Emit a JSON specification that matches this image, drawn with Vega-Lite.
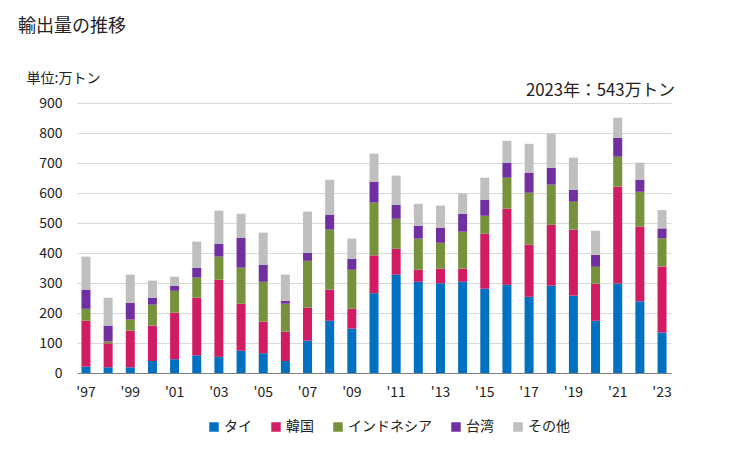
{
  "$schema": "https://vega.github.io/schema/vega-lite/v6.json",
  "width": 594,
  "height": 270,
  "autosize": {"type": "none"},
  "padding": {"left": 77, "top": 103, "right": 58, "bottom": 77},
  "background": "white",
  "title": {
    "text": "輸出量の推移",
    "anchor": "start",
    "frame": "group",
    "dx": -59,
    "offset": 35,
    "fontSize": 18,
    "fontWeight": "normal",
    "font": "Noto Sans CJK JP",
    "color": "#222222"
  },
  "datasets": {
    "main": [
      {"year": 1997, "country": "タイ", "value": 21}, {"year": 1997, "country": "韓国", "value": 153}, {"year": 1997, "country": "インドネシア", "value": 40}, {"year": 1997, "country": "台湾", "value": 64}, {"year": 1997, "country": "その他", "value": 110},
      {"year": 1998, "country": "タイ", "value": 19}, {"year": 1998, "country": "韓国", "value": 80}, {"year": 1998, "country": "インドネシア", "value": 7}, {"year": 1998, "country": "台湾", "value": 52}, {"year": 1998, "country": "その他", "value": 93},
      {"year": 1999, "country": "タイ", "value": 19}, {"year": 1999, "country": "韓国", "value": 122}, {"year": 1999, "country": "インドネシア", "value": 37}, {"year": 1999, "country": "台湾", "value": 56}, {"year": 1999, "country": "その他", "value": 94},
      {"year": 2000, "country": "タイ", "value": 40}, {"year": 2000, "country": "韓国", "value": 118}, {"year": 2000, "country": "インドネシア", "value": 70}, {"year": 2000, "country": "台湾", "value": 23}, {"year": 2000, "country": "その他", "value": 57},
      {"year": 2001, "country": "タイ", "value": 46}, {"year": 2001, "country": "韓国", "value": 155}, {"year": 2001, "country": "インドネシア", "value": 73}, {"year": 2001, "country": "台湾", "value": 17}, {"year": 2001, "country": "その他", "value": 30},
      {"year": 2002, "country": "タイ", "value": 59}, {"year": 2002, "country": "韓国", "value": 192}, {"year": 2002, "country": "インドネシア", "value": 67}, {"year": 2002, "country": "台湾", "value": 33}, {"year": 2002, "country": "その他", "value": 87},
      {"year": 2003, "country": "タイ", "value": 54}, {"year": 2003, "country": "韓国", "value": 257}, {"year": 2003, "country": "インドネシア", "value": 77}, {"year": 2003, "country": "台湾", "value": 43}, {"year": 2003, "country": "その他", "value": 110},
      {"year": 2004, "country": "タイ", "value": 74}, {"year": 2004, "country": "韓国", "value": 157}, {"year": 2004, "country": "インドネシア", "value": 120}, {"year": 2004, "country": "台湾", "value": 100}, {"year": 2004, "country": "その他", "value": 80},
      {"year": 2005, "country": "タイ", "value": 66}, {"year": 2005, "country": "韓国", "value": 105}, {"year": 2005, "country": "インドネシア", "value": 133}, {"year": 2005, "country": "台湾", "value": 57}, {"year": 2005, "country": "その他", "value": 107},
      {"year": 2006, "country": "タイ", "value": 40}, {"year": 2006, "country": "韓国", "value": 98}, {"year": 2006, "country": "インドネシア", "value": 93}, {"year": 2006, "country": "台湾", "value": 10}, {"year": 2006, "country": "その他", "value": 87},
      {"year": 2007, "country": "タイ", "value": 108}, {"year": 2007, "country": "韓国", "value": 110}, {"year": 2007, "country": "インドネシア", "value": 156}, {"year": 2007, "country": "台湾", "value": 27}, {"year": 2007, "country": "その他", "value": 137},
      {"year": 2008, "country": "タイ", "value": 174}, {"year": 2008, "country": "韓国", "value": 104}, {"year": 2008, "country": "インドネシア", "value": 200}, {"year": 2008, "country": "台湾", "value": 50}, {"year": 2008, "country": "その他", "value": 116},
      {"year": 2009, "country": "タイ", "value": 148}, {"year": 2009, "country": "韓国", "value": 66}, {"year": 2009, "country": "インドネシア", "value": 130}, {"year": 2009, "country": "台湾", "value": 37}, {"year": 2009, "country": "その他", "value": 67},
      {"year": 2010, "country": "タイ", "value": 266}, {"year": 2010, "country": "韓国", "value": 126}, {"year": 2010, "country": "インドネシア", "value": 176}, {"year": 2010, "country": "台湾", "value": 70}, {"year": 2010, "country": "その他", "value": 93},
      {"year": 2011, "country": "タイ", "value": 328}, {"year": 2011, "country": "韓国", "value": 86}, {"year": 2011, "country": "インドネシア", "value": 100}, {"year": 2011, "country": "台湾", "value": 47}, {"year": 2011, "country": "その他", "value": 97},
      {"year": 2012, "country": "タイ", "value": 304}, {"year": 2012, "country": "韓国", "value": 40}, {"year": 2012, "country": "インドネシア", "value": 104}, {"year": 2012, "country": "台湾", "value": 43}, {"year": 2012, "country": "その他", "value": 73},
      {"year": 2013, "country": "タイ", "value": 299}, {"year": 2013, "country": "韓国", "value": 49}, {"year": 2013, "country": "インドネシア", "value": 86}, {"year": 2013, "country": "台湾", "value": 50}, {"year": 2013, "country": "その他", "value": 74},
      {"year": 2014, "country": "タイ", "value": 304}, {"year": 2014, "country": "韓国", "value": 44}, {"year": 2014, "country": "インドネシア", "value": 123}, {"year": 2014, "country": "台湾", "value": 60}, {"year": 2014, "country": "その他", "value": 67},
      {"year": 2015, "country": "タイ", "value": 281}, {"year": 2015, "country": "韓国", "value": 183}, {"year": 2015, "country": "インドネシア", "value": 60}, {"year": 2015, "country": "台湾", "value": 54}, {"year": 2015, "country": "その他", "value": 73},
      {"year": 2016, "country": "タイ", "value": 294}, {"year": 2016, "country": "韓国", "value": 254}, {"year": 2016, "country": "インドネシア", "value": 103}, {"year": 2016, "country": "台湾", "value": 50}, {"year": 2016, "country": "その他", "value": 73},
      {"year": 2017, "country": "タイ", "value": 254}, {"year": 2017, "country": "韓国", "value": 174}, {"year": 2017, "country": "インドネシア", "value": 173}, {"year": 2017, "country": "台湾", "value": 67}, {"year": 2017, "country": "その他", "value": 96},
      {"year": 2018, "country": "タイ", "value": 291}, {"year": 2018, "country": "韓国", "value": 203}, {"year": 2018, "country": "インドネシア", "value": 134}, {"year": 2018, "country": "台湾", "value": 56}, {"year": 2018, "country": "その他", "value": 114},
      {"year": 2019, "country": "タイ", "value": 258}, {"year": 2019, "country": "韓国", "value": 220}, {"year": 2019, "country": "インドネシア", "value": 93}, {"year": 2019, "country": "台湾", "value": 40}, {"year": 2019, "country": "その他", "value": 107},
      {"year": 2020, "country": "タイ", "value": 174}, {"year": 2020, "country": "韓国", "value": 124}, {"year": 2020, "country": "インドネシア", "value": 56}, {"year": 2020, "country": "台湾", "value": 40}, {"year": 2020, "country": "その他", "value": 80},
      {"year": 2021, "country": "タイ", "value": 298}, {"year": 2021, "country": "韓国", "value": 323}, {"year": 2021, "country": "インドネシア", "value": 100}, {"year": 2021, "country": "台湾", "value": 63}, {"year": 2021, "country": "その他", "value": 67},
      {"year": 2022, "country": "タイ", "value": 239}, {"year": 2022, "country": "韓国", "value": 249}, {"year": 2022, "country": "インドネシア", "value": 116}, {"year": 2022, "country": "台湾", "value": 40}, {"year": 2022, "country": "その他", "value": 57},
      {"year": 2023, "country": "タイ", "value": 135}, {"year": 2023, "country": "韓国", "value": 220}, {"year": 2023, "country": "インドネシア", "value": 94}, {"year": 2023, "country": "台湾", "value": 33}, {"year": 2023, "country": "その他", "value": 61}
    ],
    "note": [{"year": 2023, "value": 900, "label": "2023年：543万トン"}]
  },
  "encoding": {
    "x": {
      "field": "year",
      "type": "ordinal",
      "scale": {"paddingInner": 0.59, "paddingOuter": 0.2},
      "axis": {
        "title": null,
        "labelAngle": 0,
        "labelExpr": "datum.value % 2 == 1 ? \"'\" + slice(toString(datum.value), 2) : ''",
        "labelOverlap": false,
        "ticks": false,
        "domainColor": "#808080",
        "labelPadding": 12,
        "labelFontSize": 14,
        "labelColor": "#222222",
        "labelFont": "Noto Sans CJK JP"
      }
    },
    "y": {
      "field": "value",
      "type": "quantitative",
      "aggregate": "sum",
      "scale": {"domain": [0, 900], "nice": false},
      "axis": {
        "title": "単位:万トン",
        "titleAngle": 0,
        "titleAlign": "left",
        "titleBaseline": "middle",
        "titleX": -51,
        "titleY": -25,
        "titleFontSize": 14,
        "titleFontWeight": "normal",
        "titleFont": "Noto Sans CJK JP",
        "titleColor": "#222222",
        "values": [0, 100, 200, 300, 400, 500, 600, 700, 800, 900],
        "labelOverlap": false,
        "domain": false,
        "ticks": false,
        "labelPadding": 15,
        "labelFontSize": 14,
        "labelColor": "#222222",
        "labelFont": "Noto Sans CJK JP",
        "gridColor": "#d9d9d9"
      }
    }
  },
  "layer": [
    {
      "data": {"name": "main"},
      "transform": [
        {"calculate": "indexof(['タイ', '韓国', 'インドネシア', '台湾', 'その他'], datum.country)", "as": "stackOrder"}
      ],
      "mark": {"type": "bar", "width": 9},
      "encoding": {
        "color": {
          "field": "country",
          "type": "nominal",
          "sort": ["タイ", "韓国", "インドネシア", "台湾", "その他"],
          "scale": {
            "domain": ["タイ", "韓国", "インドネシア", "台湾", "その他"],
            "range": ["#0070C0", "#D01C62", "#76923C", "#7030A0", "#BFBFBF"]
          },
          "legend": {
            "title": null,
            "orient": "none",
            "direction": "horizontal",
            "legendX": 130,
            "legendY": 317,
            "symbolType": "square",
            "symbolSize": 90,
            "symbolStrokeWidth": 0,
            "labelFontSize": 14,
            "labelFont": "Noto Sans CJK JP",
            "labelColor": "#222222",
            "columnPadding": 17,
            "labelOffset": 3
          }
        },
        "order": {"field": "stackOrder", "type": "quantitative", "sort": "ascending"}
      }
    },
    {
      "data": {"name": "note"},
      "mark": {"type": "text", "align": "right", "baseline": "bottom", "dx": 13, "dy": -3, "fontSize": 16.8, "font": "Noto Sans CJK JP", "color": "#222222"},
      "encoding": {
        "text": {"field": "label"}
      }
    }
  ],
  "config": {
    "view": {"stroke": null}
  }
}
